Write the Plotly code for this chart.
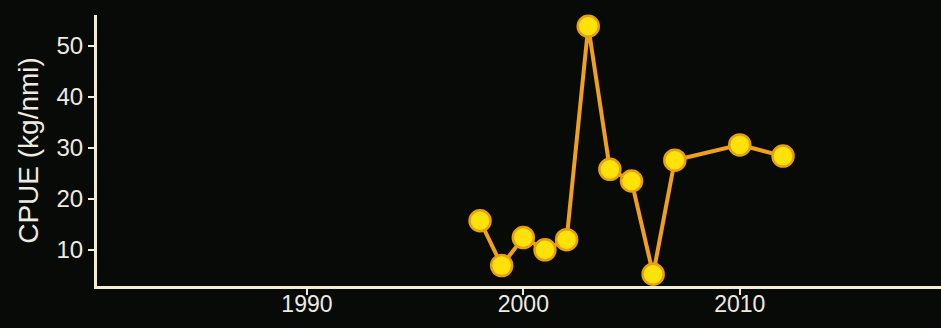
import plotly.graph_objects as go

years = [1998, 1999, 2000, 2001, 2002, 2003, 2004, 2005, 2006, 2007, 2010, 2012]
cpue = [15.7, 6.9, 12.4, 10.0, 12.0, 53.9, 25.8, 23.5, 5.2, 27.6, 30.6, 28.4]

x_ticks = [1990, 2000, 2010]
y_ticks = [10, 20, 30, 40, 50]

bg = "#070a07"
axis_col = "#f3ecd6"
text_col = "#eeeae0"

fig = go.Figure()
fig.add_trace(go.Scatter(
    x=years, y=cpue, mode="lines+markers",
    line=dict(color="#f0a01e", width=4),
    marker=dict(size=21, color="#ffe20a", line=dict(color="#e8a010", width=2.5)),
    cliponaxis=False,
    showlegend=False,
))

fig.update_layout(
    width=941, height=328,
    paper_bgcolor=bg, plot_bgcolor=bg,
    margin=dict(l=97, r=0, t=15, b=42),
    font=dict(family="Liberation Sans, Arial, sans-serif", color=text_col, size=24),
    xaxis=dict(
        range=[1980.3, 2019.3], tickvals=x_ticks, ticktext=[str(v) for v in x_ticks],
        showgrid=False, zeroline=False,
        showline=True, linecolor=axis_col, linewidth=3,
        ticks="outside", ticklen=6, tickwidth=2, tickcolor=axis_col,
        tickfont=dict(size=23, color=text_col),
        ticklabelstandoff=-11,
    ),
    yaxis=dict(
        range=[2.9, 56.1], tickvals=y_ticks, ticktext=[str(v) for v in y_ticks],
        showgrid=False, zeroline=False,
        showline=True, linecolor=axis_col, linewidth=3,
        ticks="outside", ticklen=6, tickwidth=2, tickcolor=axis_col,
        tickfont=dict(size=24, color=text_col),
        title=dict(text="CPUE (kg/nmi)", font=dict(size=28, color=text_col), standoff=10),
    ),
)

fig.write_html(
    "out.html",
    config={"displayModeBar": False},
    post_script="document.body.style.margin='0';document.body.style.background='#070a07';",
)
